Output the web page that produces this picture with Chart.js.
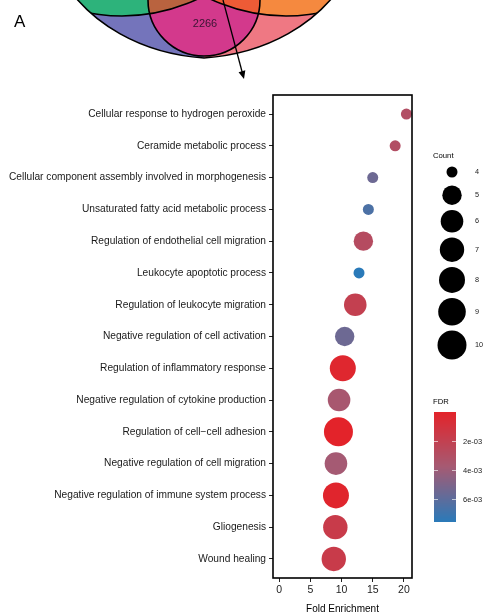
<!DOCTYPE html>
<html>
<head>
<meta charset="utf-8">
<script src="https://cdn.jsdelivr.net/npm/chart.js@4.4.1/dist/chart.umd.min.js"></script>
<style>
  html, body { margin: 0; padding: 0; background: #fff; }
  #wrap { width: 488px; height: 615px; }
</style>
</head>
<body>
<div id="wrap"><canvas id="goChart" width="488" height="615"></canvas></div>
<script>
// GO terms, top to bottom
const terms = [
  "Cellular response to hydrogen peroxide",
  "Ceramide metabolic process",
  "Cellular component assembly involved in morphogenesis",
  "Unsaturated fatty acid metabolic process",
  "Regulation of endothelial cell migration",
  "Leukocyte apoptotic process",
  "Regulation of leukocyte migration",
  "Negative regulation of cell activation",
  "Regulation of inflammatory response",
  "Negative regulation of cytokine production",
  "Regulation of cell\u2212cell adhesion",
  "Negative regulation of cell migration",
  "Negative regulation of immune system process",
  "Gliogenesis",
  "Wound healing"
];
const foldEnrichment = [20.4, 18.6, 15.0, 14.3, 13.5, 12.8, 12.2, 10.5, 10.2, 9.6, 9.5, 9.1, 9.1, 9.0, 8.75];
const geneCount = [4, 4, 4, 4, 5, 4, 6, 5, 8, 6, 10, 6, 8, 7, 7];
const fdr = [0.0030, 0.0030, 0.0055, 0.0065, 0.0028, 0.00755, 0.0020, 0.0055, 0.0003, 0.0036, 0.00004, 0.0038, 0.0002, 0.0017, 0.0017];

const xTicks = [0, 5, 10, 15, 20];
const countLevels = [4, 5, 6, 7, 8, 9, 10];
const fdrTicks = [0.002, 0.004, 0.006];
const fdrTickLabels = ["2e-03", "4e-03", "6e-03"];

// size scale (radius in px per count)
const countRadius = {4: 5.5, 5: 9.7, 6: 11.3, 7: 12.2, 8: 13.0, 9: 13.8, 10: 14.5};

// colour scale red -> blue
const fdrLo = Math.min(...fdr), fdrHi = Math.max(...fdr);
const stops = [[0, [227, 35, 42]], [0.5, [165, 90, 115]], [1, [42, 122, 185]]];
function fdrColor(v) {
  let t = (v - fdrLo) / (fdrHi - fdrLo);
  t = Math.max(0, Math.min(1, t));
  let i = t <= 0.5 ? 0 : 1;
  const a = stops[i], b = stops[i + 1];
  const u = (t - a[0]) / (b[0] - a[0]);
  const c = a[1].map((x, k) => Math.round(x + (b[1][k] - x) * u));
  return `rgb(${c[0]},${c[1]},${c[2]})`;
}

const FONT = "'Liberation Sans', Arial, Helvetica, sans-serif";
Chart.defaults.font.family = FONT;

// part of the venn diagram that pokes in at the top
const vennPlugin = {
  id: 'venn',
  beforeDraw(chart) {
    const ctx = chart.ctx;
    ctx.save();
    const outer = new Path2D();
    outer.moveTo(76, -2);
    outer.bezierCurveTo(93, 18, 133, 53, 204, 58);
    outer.bezierCurveTo(275, 53, 315, 18, 332, -2);
    outer.closePath();
    const pink = new Path2D();
    pink.arc(204, 0, 56, 0, Math.PI * 2);
    const left = new Path2D();
    left.arc(122, -161, 177, 0, Math.PI * 2);
    const right = new Path2D();
    right.arc(286, -161, 177, 0, Math.PI * 2);

    ctx.save();
    ctx.clip(outer);
    ctx.fillStyle = '#7474bb';
    ctx.fillRect(60, -5, 144, 70);
    ctx.fillStyle = '#ef7883';
    ctx.fillRect(204, -5, 140, 70);
    ctx.fillStyle = '#2db37b';
    ctx.fill(left);
    ctx.fillStyle = '#f5893f';
    ctx.fill(right);
    ctx.fillStyle = '#d3398c';
    ctx.fill(pink);
    ctx.save();
    ctx.clip(pink);
    ctx.fillStyle = '#b9633f';
    ctx.fill(left);
    ctx.fillStyle = '#ee5b36';
    ctx.fill(right);
    ctx.restore();
    ctx.strokeStyle = '#000';
    ctx.lineWidth = 1.6;
    ctx.stroke(left);
    ctx.stroke(right);
    ctx.stroke(pink);
    ctx.restore();
    ctx.strokeStyle = '#000';
    ctx.lineWidth = 1.6;
    ctx.stroke(outer);

    ctx.fillStyle = '#3a1433';
    ctx.font = '11px ' + FONT;
    ctx.textAlign = 'center';
    ctx.textBaseline = 'middle';
    ctx.fillText('2266', 205, 24);

    // arrow
    const x0 = 223, y0 = 0, x1 = 244, y1 = 79;
    const ang = Math.atan2(y1 - y0, x1 - x0);
    ctx.beginPath();
    ctx.moveTo(x0, y0);
    ctx.lineTo(x1 - 7 * Math.cos(ang), y1 - 7 * Math.sin(ang));
    ctx.lineWidth = 1.3;
    ctx.stroke();
    ctx.beginPath();
    ctx.moveTo(x1, y1);
    ctx.lineTo(x1 - 8 * Math.cos(ang) + 3.5 * Math.sin(ang), y1 - 8 * Math.sin(ang) - 3.5 * Math.cos(ang));
    ctx.lineTo(x1 - 8 * Math.cos(ang) - 3.5 * Math.sin(ang), y1 - 8 * Math.sin(ang) + 3.5 * Math.cos(ang));
    ctx.closePath();
    ctx.fillStyle = '#000';
    ctx.fill();

    ctx.font = '17px ' + FONT;
    ctx.textAlign = 'left';
    ctx.textBaseline = 'alphabetic';
    ctx.fillText('A', 14, 27);
    ctx.restore();
  }
};

// panel border
const framePlugin = {
  id: 'frame',
  afterDatasetsDraw(chart) {
    const {ctx, chartArea: a} = chart;
    ctx.save();
    ctx.strokeStyle = '#000';
    ctx.lineWidth = 1.6;
    ctx.strokeRect(a.left, a.top, a.right - a.left, a.bottom - a.top);
    ctx.restore();
  }
};

// size + colour legends on the right
const legendPlugin = {
  id: 'sideLegends',
  afterDraw(chart) {
    const ctx = chart.ctx;
    ctx.save();
    ctx.fillStyle = '#000';
    ctx.font = '7.7px ' + FONT;
    ctx.textAlign = 'left';
    ctx.textBaseline = 'middle';
    ctx.fillText('Count', 433, 156);
    ctx.font = '7.3px ' + FONT;
    let y = 172;
    countLevels.forEach((c, i) => {
      const r = countRadius[c];
      if (i > 0) {
        const hp = Math.max(2 * countRadius[countLevels[i - 1]], 17);
        y += (hp + Math.max(2 * r, 17)) / 2 + 5;
      }
      ctx.beginPath();
      ctx.arc(452, y, r, 0, Math.PI * 2);
      ctx.fillStyle = '#000';
      ctx.fill();
      ctx.fillStyle = '#222';
      ctx.fillText(String(c), 475, y);
    });

    // colour bar
    const bx = 434, bw = 22, top = 412, bot = 522;
    const toY = v => top + (v - fdrLo) / (fdrHi - fdrLo) * (bot - top);
    for (let yy = top; yy < bot; yy++) {
      const v = fdrLo + (yy + 0.5 - top) / (bot - top) * (fdrHi - fdrLo);
      ctx.fillStyle = fdrColor(v);
      ctx.fillRect(bx, yy, bw, 1);
    }
    ctx.strokeStyle = 'rgba(255,255,255,0.8)';
    ctx.lineWidth = 0.8;
    ctx.fillStyle = '#222';
    ctx.font = '7.5px ' + FONT;
    fdrTicks.forEach((v, i) => {
      const ty = Math.round(toY(v)) + 0.5;
      ctx.beginPath();
      ctx.moveTo(bx, ty); ctx.lineTo(bx + 4, ty);
      ctx.moveTo(bx + bw - 4, ty); ctx.lineTo(bx + bw, ty);
      ctx.stroke();
      ctx.fillText(fdrTickLabels[i], 463, ty);
    });
    ctx.fillStyle = '#000';
    ctx.font = '7.7px ' + FONT;
    ctx.fillText('FDR', 433, 402);
    ctx.restore();
  }
};

const ctx = document.getElementById('goChart').getContext('2d');
const goChart = new Chart(ctx, {
  type: 'scatter',
  data: {
    datasets: [{
      data: terms.map((t, i) => ({x: foldEnrichment[i], y: i})),
      pointRadius: geneCount.map(c => countRadius[c]),
      pointHoverRadius: geneCount.map(c => countRadius[c]),
      pointBackgroundColor: fdr.map(fdrColor),
      pointBorderWidth: 0,
      clip: false
    }]
  },
  options: {
    responsive: false,
    animation: false,
    events: [],
    layout: { padding: { top: 95, right: 76, left: 0, bottom: 0 } },
    plugins: { legend: { display: false }, tooltip: { enabled: false } },
    scales: {
      x: {
        type: 'linear',
        min: -1,
        max: 21.3,
        afterBuildTicks: axis => { axis.ticks = xTicks.map(v => ({value: v})); },
        afterFit: axis => { axis.height = 37; },
        grid: { drawOnChartArea: false, tickLength: 4, color: '#222', lineWidth: 1 },
        border: { display: false },
        ticks: { color: '#222', font: { size: 10.5 }, padding: 2 },
        title: { display: true, text: 'Fold Enrichment', color: '#000', font: { size: 10 }, padding: { top: 3, bottom: 0 } }
      },
      y: {
        type: 'linear',
        reverse: true,
        min: -0.6,
        max: 14.6,
        afterBuildTicks: axis => { axis.ticks = terms.map((t, i) => ({value: i})); },
        afterFit: axis => { axis.width = 273; },
        grid: { drawOnChartArea: false, tickLength: 4, color: '#222', lineWidth: 1 },
        border: { display: false },
        ticks: { autoSkip: false, color: '#1a1a1a', font: { size: 10.2 }, padding: 3, callback: v => terms[v] }
      }
    }
  },
  plugins: [vennPlugin, framePlugin, legendPlugin]
});
</script>
</body>
</html>
